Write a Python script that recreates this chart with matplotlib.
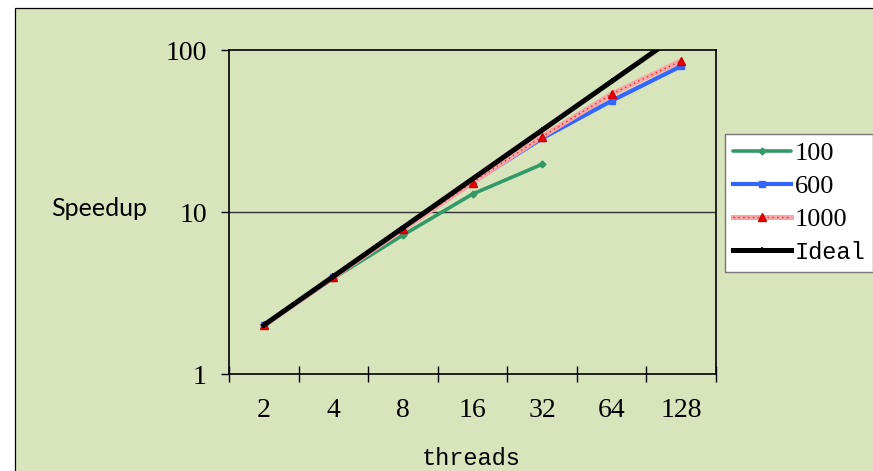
import matplotlib
matplotlib.use("Agg")
import matplotlib.pyplot as plt
from matplotlib.patches import Rectangle
from matplotlib.ticker import FixedLocator, NullFormatter, FixedFormatter

# values
threads = ["2", "4", "8", "16", "32", "64", "128"]
speedup_100 = [2.0, 3.9, 7.2, 12.9, 19.7]
speedup_600 = [2.0, 3.95, 7.8, 15.2, 28.5, 48.6, 79.6]
speedup_1000 = [2.0, 3.95, 7.8, 15.2, 29.2, 53.5, 85.9]
speedup_ideal = [2, 4, 8, 16, 32, 64, 128]
y_ticks = [1, 10, 100]

BG = "#d8e4bc"
SERIF = "Liberation Serif"

W, H = 873, 471
fig = plt.figure(figsize=(W / 100, H / 100), dpi=100, facecolor="white")

# outer chart area frame (runs off the right and bottom edges)
fig.patches.append(Rectangle((15 / W, -0.05), 1.0, 1 - 8 / H + 0.05,
                             transform=fig.transFigure, facecolor=BG,
                             edgecolor="black", linewidth=0.9, zorder=-5))

ax = fig.add_axes([229 / W, 1 - 374 / H, (716 - 229) / W, (374 - 50) / H])
ax.set_facecolor(BG)

xs = list(range(len(threads)))

l100, = ax.plot(xs[:len(speedup_100)], speedup_100, color="#339966", lw=2.6,
                marker="D", ms=3.5, mec="#339966", solid_capstyle="round")
l600, = ax.plot(xs, speedup_600, color="#3366ff", lw=3.0,
                marker="s", ms=4.5, mec="#3366ff")
l1000a, = ax.plot(xs, speedup_1000, color="#f7a6a6", lw=3.6)
l1000b, = ax.plot(xs, speedup_1000, color="#ff2020", lw=1.0, ls=(0, (1, 2.5)))
l1000c, = ax.plot(xs, speedup_1000, ls="none", marker="^", ms=5.5,
                  color="#ee0000", mec="#cc0000")
lideal, = ax.plot(xs, speedup_ideal, color="black", lw=3.6,
                  marker="+", ms=5, mew=1.2)

ax.set_yscale("log")
ax.set_ylim(1, 100)
ax.set_xlim(-0.5, len(threads) - 0.5)

ax.yaxis.set_major_locator(FixedLocator(y_ticks))
ax.yaxis.set_major_formatter(FixedFormatter([str(v) for v in y_ticks]))
ax.yaxis.set_minor_locator(FixedLocator([]))
ax.tick_params(axis="y", which="major", direction="out", length=6, width=1,
               pad=10, labelsize=20)
for lab in ax.get_yticklabels():
    lab.set_fontfamily(SERIF)

ax.xaxis.set_major_locator(FixedLocator([i - 0.5 for i in range(len(threads) + 1)]))
ax.xaxis.set_major_formatter(NullFormatter())
ax.xaxis.set_minor_locator(FixedLocator(xs))
ax.xaxis.set_minor_formatter(FixedFormatter(threads))
ax.tick_params(axis="x", which="major", direction="inout", length=12, width=1)
ax.tick_params(axis="x", which="minor", length=0, pad=17, labelsize=20)
for lab in ax.xaxis.get_minorticklabels():
    lab.set_fontfamily(SERIF)

ax.axhline(10, color="#333333", lw=1.0, zorder=1)
for sp in ax.spines.values():
    sp.set_color("black")
    sp.set_linewidth(1.2)

ax.set_xlabel("threads", fontsize=17, family="Liberation Mono",
              va="center")
ax.xaxis.set_label_coords(0.497, -0.262)
ax.set_ylabel("Speedup", fontsize=18, family="Lato", rotation=0,
              ha="center", va="center")
ax.yaxis.set_label_coords(-0.267, 0.512)

leg = fig.legend([l100, l600, (l1000a, l1000b, l1000c), lideal],
                 ["100", "600", "1000", "Ideal"],
                 loc="upper left", bbox_to_anchor=(725 / W, 1 - 134 / H),
                 prop={"family": SERIF, "size": 19},
                 frameon=True, fancybox=False, edgecolor="#777777",
                 facecolor="white", framealpha=1, handlelength=2.2,
                 handletextpad=0.15, labelspacing=0.36, borderpad=0.3,
                 borderaxespad=0)
leg.get_frame().set_linewidth(1.0)
leg.get_texts()[3].set_fontfamily("Liberation Mono")
leg.get_texts()[3].set_fontsize(17)

fig.savefig("out.png", dpi=100, facecolor="white")
